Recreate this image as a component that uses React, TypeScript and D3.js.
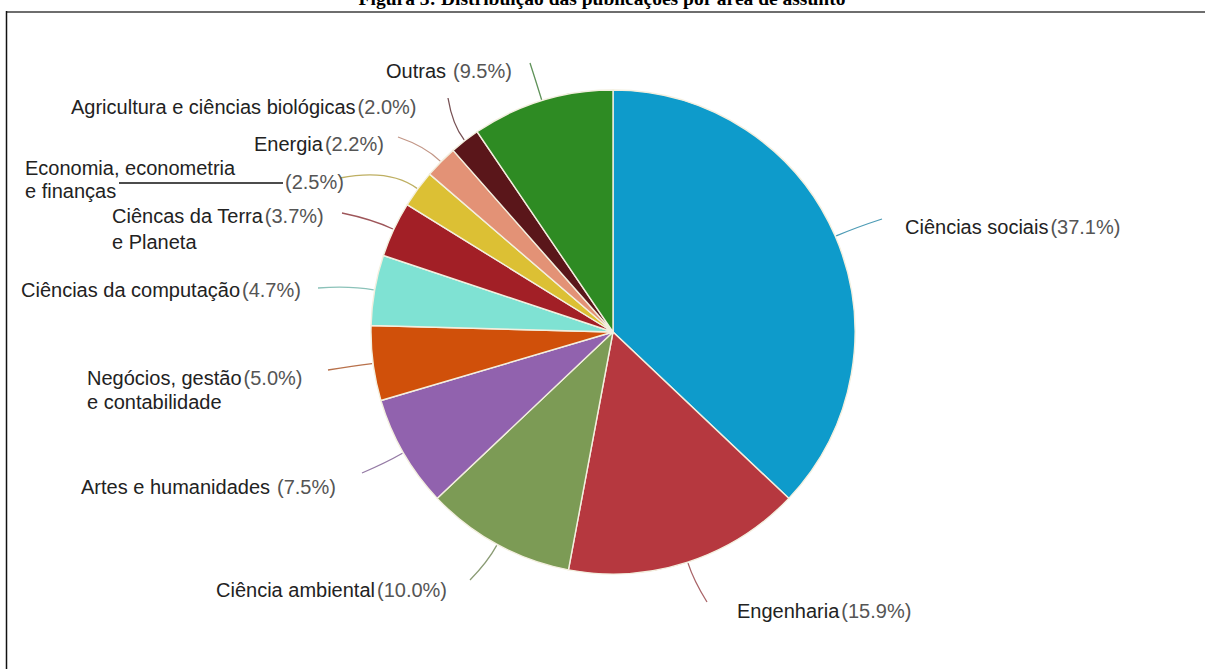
import React from "react";
import * as d3 from "d3";

const categories = [
  "Ciências sociais",
  "Engenharia",
  "Ciência ambiental",
  "Artes e humanidades",
  "Negócios, gestão",
  "Ciências da computação",
  "Ciêncas da Terra",
  "Economia, econometria",
  "Energia",
  "Agricultura e ciências biológicas",
  "Outras",
];
const values = [37.1, 15.9, 10.0, 7.5, 5.0, 4.7, 3.7, 2.5, 2.2, 2.0, 9.5];
const extraLines = ["", "", "", "", "e contabilidade", "", "e Planeta", "e finanças", "", "", ""];
const title = "Figura 3: Distribuição das publicações por área de assunto";

const colors = [
  "#0e9bcb", "#b6383f", "#7c9b55", "#9162ae", "#d0500a", "#7fe2d3",
  "#a21f26", "#dcc034", "#e39276", "#5a161a", "#2e8b23",
];

// label layout: text start x, text center y, leader end (label side), gap before pct, 2nd line offset
const layout = [
  { x: 905, y: 227, lx: 882, ly: 219, gap: 2, l2: 0 },
  { x: 737, y: 611, lx: 707, ly: 602, gap: 2, l2: 0 },
  { x: 216, y: 590, lx: 470, ly: 580, gap: 2, l2: 0 },
  { x: 81, y: 487, lx: 362, ly: 473, gap: 7, l2: 0 },
  { x: 87, y: 378, lx: 328, ly: 370, gap: 2, l2: 24 },
  { x: 21, y: 290, lx: 318, ly: 288, gap: 2, l2: 0 },
  { x: 112, y: 216, lx: 342, ly: 213, gap: 2, l2: 26 },
  { x: 25, y: 168, lx: 340, ly: 178, gap: 2, l2: 23 },
  { x: 254, y: 144, lx: 398, ly: 137, gap: 2, l2: 0 },
  { x: 71, y: 107, lx: 448, ly: 98, gap: 2, l2: 0 },
  { x: 386, y: 71, lx: 530, ly: 63, gap: 7, l2: 0 },
];

const W = 1205;
const H = 669;
const cx = 613;
const cy = 332;
const R = 242;
const FONT = "'Liberation Sans', Arial, sans-serif";

export default function App() {
  const pie = d3.pie<number>().sort(null).value((d) => d)(values);
  const arc = d3.arc<d3.PieArcDatum<number>>().innerRadius(0).outerRadius(R);
  const fmt = d3.format(".1f");

  return (
    <svg
      width={W}
      height={H}
      style={{ position: "absolute", left: 0, top: 0, display: "block", background: "#fff" }}
    >
      <text
        x={602}
        y={5}
        textAnchor="middle"
        fontFamily="'Liberation Serif', 'Times New Roman', serif"
        fontWeight="bold"
        fontSize={19.5}
        fill="#000"
      >
        {title}
      </text>
      <line x1={6} x2={W} y1={12} y2={12} stroke="#6e6e6e" strokeWidth={2} />
      <line x1={6.5} x2={6.5} y1={11} y2={H} stroke="#111" strokeWidth={1.5} />

      <g transform={`translate(${cx},${cy})`}>
        {pie.map((p, i) => (
          <path key={i} d={arc(p) || ""} fill={colors[i]} stroke="#f3efdf" strokeWidth={1.4} />
        ))}
      </g>

      {pie.map((p, i) => {
        const a = (p.startAngle + p.endAngle) / 2;
        const L = layout[i];
        const sx = cx + (R + 1) * Math.sin(a);
        const sy = cy - (R + 1) * Math.cos(a);
        const d = Math.hypot(L.lx - sx, L.ly - sy);
        const qx = cx + (R + d * 0.45) * Math.sin(a);
        const qy = cy - (R + d * 0.45) * Math.cos(a);
        const lc = d3.interpolateRgb(colors[i], "#9a9a9a")(0.45);
        return (
          <path
            key={"l" + i}
            d={`M${sx},${sy} Q${qx},${qy} ${L.lx},${L.ly}`}
            fill="none"
            stroke={lc}
            strokeWidth={1.3}
          />
        );
      })}

      {categories.map((c, i) => {
        const L = layout[i];
        const pct = `(${fmt(values[i])}%)`;
        if (i === 7) {
          return (
            <g key={"t" + i} fontFamily={FONT} fontSize={20}>
              <text x={L.x} y={L.y + 7} fill="#222">{c}</text>
              <text x={L.x} y={L.y + L.l2 + 7} fill="#222">{extraLines[i]}</text>
              <line x1={119} x2={283} y1={183} y2={183} stroke="#111" strokeWidth={1.5} />
              <text x={285} y={182 + 7} fill="#555">{pct}</text>
            </g>
          );
        }
        return (
          <g key={"t" + i} fontFamily={FONT} fontSize={20}>
            <text x={L.x} y={L.y + 7} fill="#222">
              {c}
              <tspan fill="#555" dx={L.gap}>{pct}</tspan>
            </text>
            {extraLines[i] && (
              <text x={L.x} y={L.y + L.l2 + 7} fill="#222">{extraLines[i]}</text>
            )}
          </g>
        );
      })}
    </svg>
  );
}
